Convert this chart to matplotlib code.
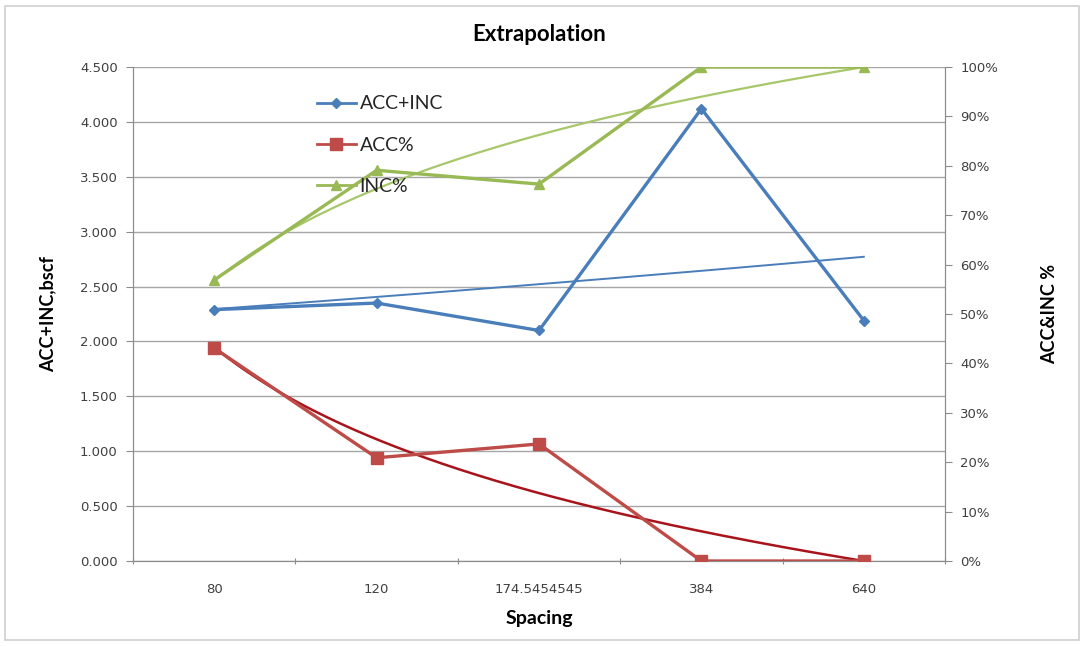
import matplotlib
matplotlib.use("Agg")
import matplotlib.pyplot as plt
import matplotlib.patches as patches
import numpy as np

# values
spacing = ["80", "120", "174.5454545", "384", "640"]
acc_inc = [2.29, 2.35, 2.10, 4.12, 2.19]          # bscf, left axis
acc_pct = [0.431, 0.209, 0.237, 0.0, 0.0]          # right axis
inc_pct = [0.569, 0.791, 0.763, 1.0, 1.0]          # right axis

blue = "#4a7ebb"
red = "#be4b48"
green = "#98b954"
gridc = "#a6a6a6"
spinec = "#8c8c8c"

fig = plt.figure(figsize=(10.84, 6.47), dpi=100)
fig.patches.append(patches.Rectangle((0.005, 0.011), 0.99, 0.98, transform=fig.transFigure,
                                     fill=False, edgecolor="#d0d0d0", lw=1.2))

ax = fig.add_axes([0.1227, 0.1329, 0.7491, 0.7635])
ax2 = ax.twinx()

x = np.arange(len(spacing))
xi = x + 1  # Excel trendlines use category index 1..n
xs = np.linspace(1, len(spacing), 200)

# trendlines (fitted like Excel: exponential for blue, logarithmic for the percentages)
b, a = np.polyfit(xi, np.log(acc_inc), 1)
ax.plot(xs - 1, np.exp(a + b * xs), color=blue, lw=1.4, zorder=3)
bl, al = np.polyfit(np.log(xi), acc_pct, 1)
ax2.plot(xs - 1, al + bl * np.log(xs), color="#a8141c", lw=1.8, zorder=3)
bl, al = np.polyfit(np.log(xi), inc_pct, 1)
ax2.plot(xs - 1, al + bl * np.log(xs), color="#a6c76a", lw=1.6, zorder=3)

l1, = ax.plot(x, acc_inc, color=blue, lw=2.4, marker="D", ms=5.5, label="ACC+INC", zorder=4)
l2, = ax2.plot(x, acc_pct, color=red, lw=2.4, marker="s", ms=8.5, label="ACC%", zorder=4)
l3, = ax2.plot(x, inc_pct, color=green, lw=2.4, marker="^", ms=7, label="INC%", zorder=4)

ax.set_xlim(-0.5, len(spacing) - 0.5)
ax.set_ylim(0, 4.5)
ax2.set_ylim(0, 1.0)

ax.set_yticks(np.arange(0, 4.51, 0.5))
ax.set_yticklabels(["%.3f" % v for v in np.arange(0, 4.51, 0.5)])
ax2.set_yticks(np.arange(0, 1.01, 0.1))
ax2.set_yticklabels(["%d%%" % round(v * 100) for v in np.arange(0, 1.01, 0.1)])

ax.set_xticks(np.arange(-0.5, len(spacing), 1.0))
ax.set_xticklabels([])
ax.set_xticks(x, minor=True)
ax.set_xticklabels(spacing, minor=True)
ax.tick_params(axis="x", which="major", length=5, direction="inout", color=spinec)
ax.tick_params(axis="x", which="minor", length=0, pad=16, labelsize=9.5, labelcolor="#404040")
ax.tick_params(axis="y", length=5, color=spinec, labelsize=9.5, labelcolor="#404040", pad=6)
ax2.tick_params(axis="y", length=5, color=spinec, labelsize=9.5, labelcolor="#404040", pad=6)

ax.yaxis.grid(True, color=gridc, lw=1.0)
ax.set_axisbelow(True)
for a_ in (ax, ax2):
    a_.spines["top"].set_visible(False)
    for s in ("left", "right", "bottom"):
        a_.spines[s].set_color(spinec)

ax.set_title("Extrapolation", fontsize=16, fontweight="bold", family="Lato", pad=19)
ax.set_xlabel("Spacing", fontsize=14, fontweight="bold", family="Lato", labelpad=10)
ax.set_ylabel("ACC+INC,bscf", fontsize=13, fontweight="bold", family="Lato", labelpad=17)
ax2.set_ylabel("ACC&INC %", fontsize=13, fontweight="bold", family="Lato", labelpad=31)

leg = ax2.legend(handles=[l1, l2, l3], loc="upper left", bbox_to_anchor=(0.205, 0.978),
                 frameon=False, labelspacing=1.25, handlelength=2.0,
                 handletextpad=0.2, prop={"family": "Lato", "size": 14})
for h in leg.legend_handles:
    h.set_linewidth(2.0)
for t in leg.get_texts():
    t.set_color("#262626")

fig.savefig("out.png", dpi=100, facecolor="white")
